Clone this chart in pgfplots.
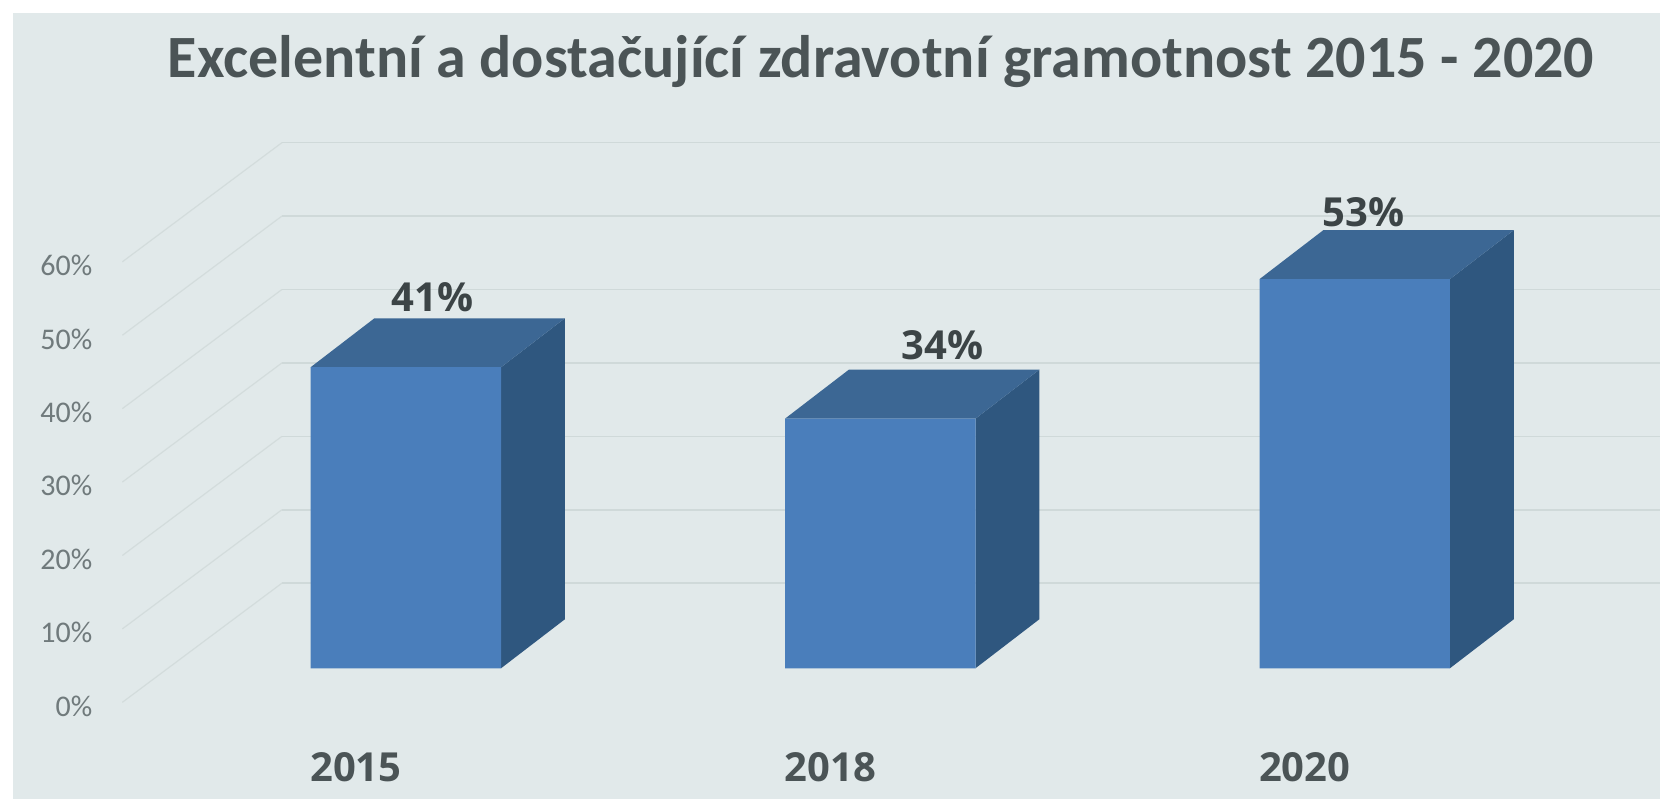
\documentclass[border=0pt]{standalone}
\usepackage{fontspec}
\setmainfont{Carlito}
\newfontfamily\labelfont{Open Sans}
\usepackage{pgfplots}
\pgfplotsset{compat=1.18}

\definecolor{panelbg}{HTML}{E1E9EA}
\definecolor{gridback}{HTML}{CFD9D9}
\definecolor{griddiag}{HTML}{D3DCDC}
\definecolor{barfront}{HTML}{4A7EBB}
\definecolor{bartop}{HTML}{3C6794}
\definecolor{barside}{HTML}{2F577F}
\definecolor{titlegray}{HTML}{4B5456}
\definecolor{valgray}{HTML}{3C4446}
\definecolor{tickgray}{HTML}{707A7C}

\begin{document}
\begin{tikzpicture}
\useasboundingbox (0,0) rectangle (834pt,400pt);
\begin{axis}[
    at={(6.5pt,0.5pt)},
    anchor=south west,
    scale only axis,
    width=823.5pt,
    height=393pt,
    xmin=-0.828, xmax=2.6435,
    ymin=-17.81, ymax=89.25,
    axis line style={draw=none},
    axis background/.style={fill=panelbg},
    major tick length=0pt,
    xtick={0,1,2},
    xticklabels={2015,2018,2020},
    xticklabel style={font=\labelfont\bfseries\fontsize{20}{24}\selectfont,text=titlegray,xshift=-25pt,yshift=26.7pt},
    ytick={0,10,20,30,40,50,60},
    yticklabels={0\%,10\%,20\%,30\%,40\%,50\%,60\%},
    yticklabel style={font=\fontsize{15}{18}\selectfont,text=tickgray,anchor=east,inner xsep=0pt,xshift=39.8pt,yshift=-18.9pt},
    title={Excelentní a dostačující zdravotní gramotnost 2015 - 2020},
    title style={font=\bfseries\fontsize{30}{35}\selectfont,text=titlegray,at={(axis description cs:0.527,0.9235)},anchor=center},
]
% grid: back wall and floor diagonal, one per tick
\addplot[griddiag,line width=0.6pt] coordinates {(-0.5975,-4.64)(-0.2612,11.59)};
\addplot[griddiag,line width=0.6pt] coordinates {(-0.5975,5.36)(-0.2612,21.59)};
\addplot[griddiag,line width=0.6pt] coordinates {(-0.5975,15.36)(-0.2612,31.59)};
\addplot[griddiag,line width=0.6pt] coordinates {(-0.5975,25.36)(-0.2612,41.59)};
\addplot[griddiag,line width=0.6pt] coordinates {(-0.5975,35.36)(-0.2612,51.59)};
\addplot[griddiag,line width=0.6pt] coordinates {(-0.5975,45.36)(-0.2612,61.59)};
\addplot[griddiag,line width=0.6pt] coordinates {(-0.5975,55.36)(-0.2612,71.59)};
\addplot[gridback,line width=0.8pt] coordinates {(-0.2612,11.59)(2.6435,11.59)};
\addplot[gridback,line width=0.8pt] coordinates {(-0.2612,21.59)(2.6435,21.59)};
\addplot[gridback,line width=0.8pt] coordinates {(-0.2612,31.59)(2.6435,31.59)};
\addplot[gridback,line width=0.8pt] coordinates {(-0.2612,41.59)(2.6435,41.59)};
\addplot[gridback,line width=0.8pt] coordinates {(-0.2612,51.59)(2.6435,51.59)};
\addplot[gridback,line width=0.8pt] coordinates {(-0.2612,61.59)(2.6435,61.59)};
\addplot[gridback,line width=0.8pt] coordinates {(-0.2612,71.59)(2.6435,71.59)};

% side faces
\addplot[fill=barside,draw=none] coordinates {(0.2007,0)(0.3352,6.67)(0.3352,47.67)(0.2007,41)} -- cycle;
\addplot[fill=barside,draw=none] coordinates {(1.2007,0)(1.3352,6.67)(1.3352,40.67)(1.2007,34)} -- cycle;
\addplot[fill=barside,draw=none] coordinates {(2.2007,0)(2.3352,6.67)(2.3352,59.67)(2.2007,53)} -- cycle;
% top faces
\addplot[fill=bartop,draw=none] coordinates {(-0.2007,41)(-0.0662,47.67)(0.3352,47.67)(0.2007,41)} -- cycle;
\addplot[fill=bartop,draw=none] coordinates {(0.7993,34)(0.9338,40.67)(1.3352,40.67)(1.2007,34)} -- cycle;
\addplot[fill=bartop,draw=none] coordinates {(1.7993,53)(1.9338,59.67)(2.3352,59.67)(2.2007,53)} -- cycle;
% front faces
\addplot[ybar,bar width=0.4014,fill=barfront,draw=none,
    nodes near coords={\pgfmathprintnumber[assume math mode=true]{\pgfplotspointmeta}\%},
    every node near coord/.append style={font=\labelfont\bfseries\fontsize{20}{24}\selectfont,text=valgray,anchor=center},
    coordinate style/.condition={x==0}{xshift=13.5pt,yshift=35.1pt},
    coordinate style/.condition={x==1}{xshift=31pt,yshift=36.7pt},
    coordinate style/.condition={x==2}{xshift=4.5pt,yshift=33.5pt},
] coordinates {(0,41)(1,34)(2,53)};
\end{axis}
\end{tikzpicture}
\end{document}
